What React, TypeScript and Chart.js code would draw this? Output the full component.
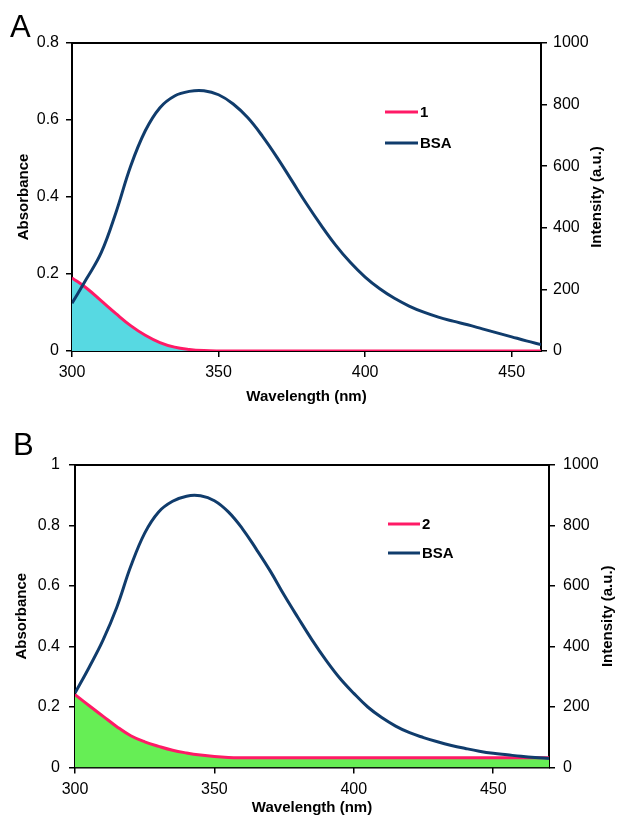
import React, { useEffect, useRef } from "react";
import { Chart, registerables } from "chart.js";

Chart.register(...registerables);

const FONT = '"Liberation Sans", Arial, Helvetica, sans-serif';

// ---------- Panel A data ----------
const WAVELENGTH_A = [
  300, 305, 310, 315, 320, 325, 330, 335, 340, 345, 350, 355, 360, 365, 370, 375, 380,
  385, 390, 395, 400, 405, 410, 415, 420, 425, 430, 435, 440, 445, 450, 455, 460,
];
const ABS_1 = [
  0.19, 0.163, 0.13, 0.097, 0.066, 0.041, 0.022, 0.01, 0.004, 0.001, 0, 0, 0, 0, 0, 0, 0,
  0, 0, 0, 0, 0, 0, 0, 0, 0, 0, 0, 0, 0, 0, 0, 0,
];
const BSA_A = [
  155, 235, 320, 450, 600, 715, 790, 828, 843, 845, 832, 802, 757, 697, 628, 553, 478,
  408, 343, 287, 240, 202, 171, 146, 126, 110, 97, 85, 72, 59, 46, 33, 21,
];

// ---------- Panel B data ----------
const WAVELENGTH_B = [
  300, 305, 310, 315, 320, 325, 330, 335, 340, 345, 350, 355, 360, 365, 370, 375, 380,
  385, 390, 395, 400, 405, 410, 415, 420, 425, 430, 435, 440, 445, 450, 455, 460, 465, 470,
];
const ABS_2 = [
  0.241, 0.205, 0.17, 0.135, 0.105, 0.085, 0.07, 0.057, 0.048, 0.041, 0.036, 0.033, 0.032,
  0.032, 0.032, 0.032, 0.032, 0.032, 0.032, 0.032, 0.032, 0.032, 0.032, 0.032, 0.032,
  0.032, 0.032, 0.032, 0.032, 0.032, 0.032, 0.032, 0.032, 0.032, 0.032,
];
const BSA_B = [
  246, 330, 420, 530, 665, 775, 845, 880, 897, 898, 882, 845, 790, 722, 650, 570, 495,
  422, 355, 295, 245, 200, 165, 137, 115, 99, 85, 73, 63, 54, 47, 42, 37, 33, 30,
];

// ---------- ticks / labels ----------
const X_TICKS = [300, 350, 400, 450];
const ABS_TICKS_A = [0, 0.2, 0.4, 0.6, 0.8];
const ABS_TICKS_B = [0, 0.2, 0.4, 0.6, 0.8, 1];
const INT_TICKS = [0, 200, 400, 600, 800, 1000];
const X_TITLE = "Wavelength (nm)";
const Y_LEFT_TITLE = "Absorbance";
const Y_RIGHT_TITLE = "Intensity (a.u.)";
const BSA_LABEL = "BSA";

const PINK = "#ff1a66";
const NAVY = "#103c6c";

type PanelCfg = {
  letter: string;
  compound: string;
  wl: number[];
  abs: number[];
  bsa: number[];
  xMax: number;
  absMax: number;
  absTicks: number[];
  fill: string;
  canvasTop: number;
  canvasHeight: number;
  area: { left: number; right: number; top: number; bottom: number };
  leftPad: number;
  rightPad: number;
  leftTitleX: number;
  rightTitleX: number;
  xTitleY: number;
  legend: { x1: number; x2: number; y1: number; y2: number };
  letterPos: { x: number; y: number };
};

const PANELS: PanelCfg[] = [
  {
    letter: "A",
    compound: "1",
    wl: WAVELENGTH_A,
    abs: ABS_1,
    bsa: BSA_A,
    xMax: 460,
    absMax: 0.8,
    absTicks: ABS_TICKS_A,
    fill: "#57d9e2",
    canvasTop: 0,
    canvasHeight: 410,
    area: { left: 72, right: 541, top: 43, bottom: 351 },
    leftPad: 7,
    rightPad: 6,
    leftTitleX: 24,
    rightTitleX: 597,
    xTitleY: 397,
    legend: { x1: 385, x2: 418, y1: 112, y2: 143 },
    letterPos: { x: 10, y: 37 },
  },
  {
    letter: "B",
    compound: "2",
    wl: WAVELENGTH_B,
    abs: ABS_2,
    bsa: BSA_B,
    xMax: 470,
    absMax: 1,
    absTicks: ABS_TICKS_B,
    fill: "#66ee55",
    canvasTop: 410,
    canvasHeight: 406,
    area: { left: 75, right: 549, top: 55, bottom: 357.5 },
    leftPad: 9,
    rightPad: 8,
    leftTitleX: 22,
    rightTitleX: 608,
    xTitleY: 398,
    legend: { x1: 388, x2: 420, y1: 114, y2: 143 },
    letterPos: { x: 13, y: 45 },
  },
];

function Panel({ cfg }: { cfg: PanelCfg }) {
  const ref = useRef<HTMLCanvasElement | null>(null);

  useEffect(() => {
    const canvas = ref.current;
    if (!canvas) return;
    const W = 617;
    const H = cfg.canvasHeight;
    const a = cfg.area;

    const decor = {
      id: "decor",
      beforeDatasetsDraw(chart: any) {
        const { ctx, chartArea: ca } = chart;
        ctx.save();
        ctx.strokeStyle = "#000";
        ctx.lineWidth = 2;
        ctx.strokeRect(ca.left, ca.top, ca.right - ca.left, ca.bottom - ca.top);
        ctx.restore();
      },
      afterDraw(chart: any) {
        const { ctx, chartArea: ca } = chart;
        ctx.save();
        ctx.fillStyle = "#000";
        // axis titles
        ctx.font = `bold 15px ${FONT}`;
        ctx.textAlign = "center";
        ctx.textBaseline = "middle";
        ctx.fillText(X_TITLE, (ca.left + ca.right) / 2, cfg.xTitleY);
        const midY = (ca.top + ca.bottom) / 2;
        ctx.save();
        ctx.translate(cfg.leftTitleX, midY);
        ctx.rotate(-Math.PI / 2);
        ctx.fillText(Y_LEFT_TITLE, 0, 0);
        ctx.restore();
        ctx.save();
        ctx.translate(cfg.rightTitleX, midY);
        ctx.rotate(-Math.PI / 2);
        ctx.fillText(Y_RIGHT_TITLE, 0, 0);
        ctx.restore();
        // legend
        const lg = cfg.legend;
        ctx.lineWidth = 3;
        ctx.lineCap = "butt";
        ctx.strokeStyle = PINK;
        ctx.beginPath();
        ctx.moveTo(lg.x1, lg.y1);
        ctx.lineTo(lg.x2, lg.y1);
        ctx.stroke();
        ctx.strokeStyle = NAVY;
        ctx.beginPath();
        ctx.moveTo(lg.x1, lg.y2);
        ctx.lineTo(lg.x2, lg.y2);
        ctx.stroke();
        ctx.font = `bold 15px ${FONT}`;
        ctx.textAlign = "left";
        ctx.textBaseline = "middle";
        ctx.fillText(cfg.compound, lg.x2 + 2, lg.y1 + 1);
        ctx.fillText(BSA_LABEL, lg.x2 + 2, lg.y2 + 1);
        // panel letter
        ctx.font = `31px ${FONT}`;
        ctx.textBaseline = "alphabetic";
        ctx.fillText(cfg.letter, cfg.letterPos.x, cfg.letterPos.y);
        ctx.restore();
      },
    };

    const tickFont = { family: FONT, size: 16 };
    const gridCfg = {
      display: true,
      drawOnChartArea: false,
      drawTicks: true,
      tickLength: 6,
      color: "#000",
      lineWidth: 1.5,
    };

    const chart = new Chart(canvas, {
      type: "line",
      data: {
        datasets: [
          {
            label: cfg.compound,
            data: cfg.wl.map((x, i) => ({ x, y: cfg.abs[i] })),
            yAxisID: "yAbs",
            borderColor: PINK,
            backgroundColor: cfg.fill,
            borderWidth: 3,
            pointRadius: 0,
            fill: "origin",
            tension: 0.4,
            order: 2,
          },
          {
            label: BSA_LABEL,
            data: cfg.wl.map((x, i) => ({ x, y: cfg.bsa[i] })),
            yAxisID: "yInt",
            borderColor: NAVY,
            borderWidth: 3,
            pointRadius: 0,
            fill: false,
            tension: 0.4,
            order: 1,
          },
        ],
      },
      options: {
        responsive: false,
        animation: false,
        devicePixelRatio: 1,
        events: [],
        layout: { padding: { top: a.top, left: 0, right: 0, bottom: 0 } },
        plugins: {
          legend: { display: false },
          tooltip: { enabled: false },
        },
        scales: {
          x: {
            type: "linear",
            position: "bottom",
            min: 300,
            max: cfg.xMax,
            grid: gridCfg,
            border: { display: false },
            ticks: { font: tickFont, color: "#000", padding: 6, maxRotation: 0 },
            afterBuildTicks: (s: any) => {
              s.ticks = X_TICKS.map((v) => ({ value: v }));
            },
            afterFit: (s: any) => {
              s.height = H - a.bottom;
            },
          },
          yAbs: {
            type: "linear",
            position: "left",
            min: 0,
            max: cfg.absMax,
            grid: gridCfg,
            border: { display: false },
            ticks: {
              font: tickFont,
              color: "#000",
              padding: cfg.leftPad,
              callback: (v: any) => String(Math.round(Number(v) * 10) / 10),
            },
            afterBuildTicks: (s: any) => {
              s.ticks = cfg.absTicks.map((v) => ({ value: v }));
            },
            afterFit: (s: any) => {
              s.width = a.left;
            },
          },
          yInt: {
            type: "linear",
            position: "right",
            min: 0,
            max: 1000,
            grid: gridCfg,
            border: { display: false },
            ticks: {
              font: tickFont,
              color: "#000",
              padding: cfg.rightPad,
              callback: (v: any) => String(Math.round(Number(v))),
            },
            afterBuildTicks: (s: any) => {
              s.ticks = INT_TICKS.map((v) => ({ value: v }));
            },
            afterFit: (s: any) => {
              s.width = W - a.right;
            },
          },
        },
      } as any,
      plugins: [decor],
    });

    return () => chart.destroy();
  }, [cfg]);

  return (
    <canvas
      ref={ref}
      width={617}
      height={cfg.canvasHeight}
      style={{
        position: "absolute",
        left: 0,
        top: cfg.canvasTop,
        width: 617,
        height: cfg.canvasHeight,
        display: "block",
      }}
    />
  );
}

export default function App() {
  return (
    <div
      style={{
        position: "absolute",
        left: 0,
        top: 0,
        width: 617,
        height: 816,
        background: "#fff",
        overflow: "hidden",
      }}
    >
      {PANELS.map((p) => (
        <Panel key={p.letter} cfg={p} />
      ))}
    </div>
  );
}
